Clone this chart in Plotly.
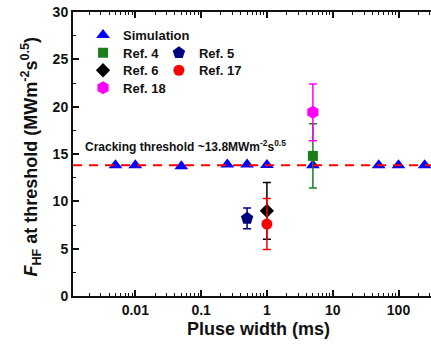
import plotly.graph_objects as go

# ---- data ----
sim_x = [0.005, 0.01, 0.05, 0.25, 0.5, 1, 5, 50, 100, 250]
sim_y = [13.8, 13.8, 13.7, 13.9, 13.9, 13.85, 13.8, 13.8, 13.8, 13.8]

ref4_x, ref4_y, ref4_err = [5], [14.8], [3.4]
ref5_x, ref5_y, ref5_err = [0.5], [8.2], [1.1]
ref6_x, ref6_y, ref6_err = [1], [9.0], [3.0]
ref17_x, ref17_y, ref17_err = [1], [7.6], [2.7]
ref18_x, ref18_y, ref18_err = [5], [19.4], [3.0]

threshold = 13.8

x_tickvals = [0.01, 0.1, 1, 10, 100]
x_ticktext = ["0.01", "0.1", "1", "10", "100"]
x_minor = [k * 10.0 ** e for e in range(-3, 3) for k in range(2, 10)]

FONT = "Liberation Sans, Arial, sans-serif"

fig = go.Figure()

def add(x, y, err, name, symbol, color, size, legend):
    fig.add_trace(go.Scatter(
        x=x, y=y, mode="markers", name=name,
        marker=dict(symbol=symbol, color=color, size=size, line=dict(width=0)),
        error_y=dict(type="data", array=err, visible=err is not None,
                     color=color, thickness=1.5, width=4),
        legend=legend,
    ))

add(sim_x, sim_y, None, "Simulation", "triangle-up", "#0000FF", 12, "legend")
add(ref4_x, ref4_y, ref4_err, "Ref. 4", "square", "#1A7F1A", 10, "legend2")
add(ref18_x, ref18_y, ref18_err, "Ref. 18", "hexagon", "#FF00FF", 13, "legend6")
add(ref5_x, ref5_y, ref5_err, "Ref. 5", "pentagon", "#000080", 13, "legend3")
add(ref6_x, ref6_y, ref6_err, "Ref. 6", "diamond", "#000000", 11, "legend4")
add(ref17_x, ref17_y, ref17_err, "Ref. 17", "circle", "#FF0000", 11, "legend5")

fig.add_shape(type="line", xref="paper", yref="y", x0=0, x1=1,
              y0=threshold, y1=threshold, layer="above",
              line=dict(color="#FF0000", width=2, dash="9px,7px"))

fig.add_annotation(xref="paper", yref="paper", x=0.028, y=0.528,
                   xanchor="left", yanchor="middle", showarrow=False,
                   text="Cracking threshold ~13.8MWm<sup>-2</sup>s<sup>0.5</sup>",
                   font=dict(family=FONT, size=12, color="#111", weight="bold"))

fig.add_annotation(xref="paper", yref="paper", x=-0.1173, y=0.491,
                   xanchor="center", yanchor="middle", showarrow=False, textangle=-90,
                   text="<i>F</i><sub>HF</sub> at threshold (MWm<sup>-2</sup>s<sup>0.5</sup>)",
                   font=dict(family=FONT, size=18, color="#111", weight="bold"))

fig.add_annotation(xref="paper", yref="paper", x=0.5168, y=-0.116,
                   xanchor="center", yanchor="middle", showarrow=False,
                   text="Pluse width (ms)",
                   font=dict(family=FONT, size=18, color="#111", weight="bold"))

legend_font = dict(family=FONT, size=13, color="#111", weight="bold")

def leg(x, y):
    return dict(x=x, y=y, xanchor="left", yanchor="top",
                bgcolor="rgba(0,0,0,0)", font=legend_font)

col1, col2 = 0.028, 0.24
rows = [0.9718, 0.9095, 0.8475, 0.7863]

fig.update_layout(
    width=431, height=344,
    margin=dict(l=73, r=0, t=12, b=48),
    paper_bgcolor="white", plot_bgcolor="white",
    font=dict(family=FONT, color="#111"),
    legend=leg(col1, rows[0]),
    legend2=leg(col1, rows[1]),
    legend3=leg(col2, rows[1]),
    legend4=leg(col1, rows[2]),
    legend5=leg(col2, rows[2]),
    legend6=leg(col1, rows[3]),
    xaxis=dict(type="log", range=[-2.947, 2.494],
               tickmode="array", tickvals=x_tickvals, ticktext=x_ticktext,
               ticks="inside", ticklen=6, tickwidth=1.5, tickcolor="#111",
               showline=True, linewidth=2, linecolor="#111", mirror="ticks",
               showgrid=False, zeroline=False,
               tickfont=dict(family=FONT, size=14, color="#111", weight="bold"),
               minor=dict(tickmode="array", tickvals=x_minor, ticks="inside",
                          ticklen=3, tickwidth=1.2, tickcolor="#111", showgrid=False)),
    yaxis=dict(range=[0, 30], dtick=5, tick0=0,
               ticks="inside", ticklen=6, tickwidth=1.5, tickcolor="#111",
               showline=True, linewidth=2, linecolor="#111",
               showgrid=False, zeroline=False,
               tickfont=dict(family=FONT, size=14, color="#111", weight="bold"),
               minor=dict(dtick=2.5, ticks="inside", ticklen=3, tickwidth=1.2,
                          tickcolor="#111", showgrid=False)),
    showlegend=True,
)

fig.write_html("out.html", config={"displayModeBar": False},
               post_script="document.body.style.margin='0';")
